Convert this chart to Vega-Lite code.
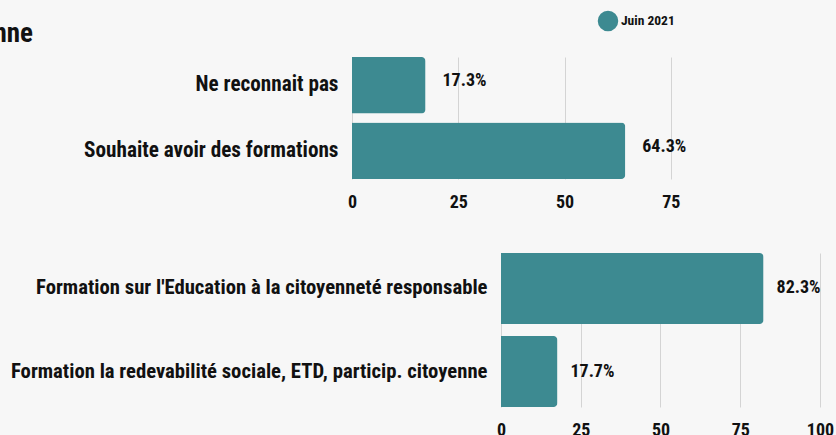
{
  "$schema": "https://vega.github.io/schema/vega-lite/v6.json",
  "background": "#f7f7f7",
  "padding": {"left": -218, "top": 10, "right": 120, "bottom": 20},
  "title": {
    "text": "Participation citoyenne",
    "anchor": "start",
    "dx": -228,
    "dy": 38,
    "fontSize": 27,
    "font": "'Liberation Sans Narrow', 'Roboto Condensed', Roboto",
    "fontWeight": "bold",
    "color": "#111111",
    "offset": 0
  },
  "config": {
    "view": {"stroke": null},
    "font": "Roboto",
    "axis": {
      "labelFont": "'Liberation Sans Narrow', 'Roboto Condensed', Roboto",
      "labelFontWeight": "bold",
      "labelColor": "#111111",
      "domain": false,
      "ticks": false,
      "title": null
    }
  },
  "spacing": 42,
  "vconcat": [
    {
      "width": 340,
      "height": 122,
      "data": {"values": [
        {"cat": "Ne reconnait pas", "value": 17.3, "period": "Juin 2021"},
        {"cat": "Souhaite avoir des formations", "value": 64.3, "period": "Juin 2021"}
      ]},
      "transform": [{"calculate": "format(datum.value, '.1f') + '%'", "as": "label"}],
      "encoding": {
        "y": {"field": "cat", "type": "nominal", "sort": null,
              "scale": {"paddingInner": 0.14, "paddingOuter": 0},
              "axis": {"labelFontSize": 21.2, "labelPadding": 14, "labelLimit": 600, "grid": false}},
        "x": {"field": "value", "type": "quantitative",
              "scale": {"domain": [0, 80], "nice": false},
              "axis": {"values": [0, 25, 50, 75], "labelFlush": false, "labelFontSize": 18, "labelPadding": 14, "grid": true, "gridColor": "#d4d4d4"}}
      },
      "layer": [
        {"mark": {"type": "bar", "cornerRadiusEnd": 4},
         "encoding": {"color": {"field": "period", "type": "nominal", "scale": {"range": ["#3d8a91"]},
           "legend": {"title": null, "orient": "none", "legendX": 245, "legendY": -47, "symbolType": "circle", "symbolSize": 420, "labelOffset": 2, "labelFont": "'Liberation Sans Narrow', 'Roboto Condensed', Roboto", "labelFontSize": 13.5, "labelFontWeight": "bold", "labelColor": "#111111"}}}},
        {"mark": {"type": "text", "align": "left", "dx": 17, "dy": -4, "fontSize": 18, "fontWeight": "bold", "font": "'Liberation Sans Narrow', 'Roboto Condensed', Roboto", "color": "#111111"},
         "encoding": {"text": {"field": "label"}}}
      ]
    },
    {
      "width": 468,
      "height": 154,
      "data": {"values": [
        {"cat": "Formation sur l'Education à la citoyenneté responsable", "value": 82.3, "period": "Juin 2021"},
        {"cat": "Formation la redevabilité sociale, ETD, particip. citoyenne", "value": 17.7, "period": "Juin 2021"}
      ]},
      "transform": [{"calculate": "format(datum.value, '.1f') + '%'", "as": "label"}],
      "encoding": {
        "y": {"field": "cat", "type": "nominal", "sort": null,
              "scale": {"paddingInner": 0.145, "paddingOuter": 0},
              "axis": {"labelFontSize": 20.7, "labelPadding": -135, "labelLimit": 700, "grid": false}},
        "x": {"field": "value", "type": "quantitative",
              "scale": {"domain": [-46.7, 100], "nice": false, "zero": false},
              "axis": {"values": [0, 25, 50, 75, 100], "labelFlush": false, "labelFontSize": 18, "labelPadding": 14, "grid": true, "gridColor": "#d4d4d4"}}
      },
      "layer": [
        {"mark": {"type": "bar", "cornerRadiusEnd": 4},
         "encoding": {"color": {"field": "period", "type": "nominal"}}},
        {"mark": {"type": "text", "align": "left", "dx": 13, "dy": 0, "fontSize": 18, "fontWeight": "bold", "font": "'Liberation Sans Narrow', 'Roboto Condensed', Roboto", "color": "#111111"},
         "encoding": {"text": {"field": "label"}}}
      ]
    }
  ]
}
